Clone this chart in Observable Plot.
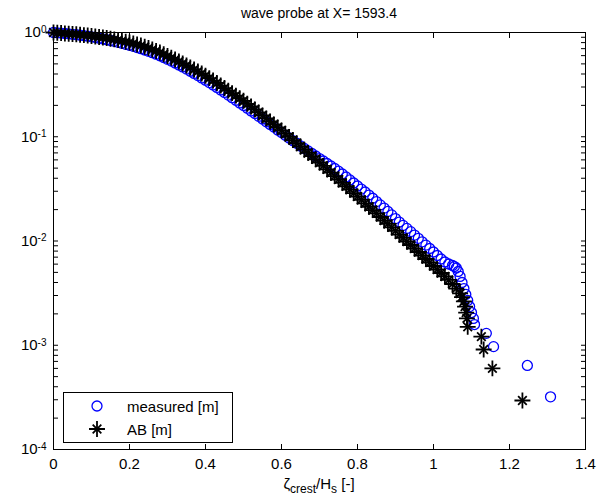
<!DOCTYPE html>
<html><head><meta charset="utf-8">
<script src="https://cdn.jsdelivr.net/npm/d3@7"></script>
<script src="https://cdn.jsdelivr.net/npm/@observablehq/plot@0.6"></script>
<style>
body{margin:0;background:#fff;}
#chart{width:599px;height:503px;}
</style></head><body><div id="chart"></div>
<script>
const titleText = "wave probe at X= 1593.4";
const seriesNames = ["measured [m]", "AB [m]"];

const measuredX = [0,0.01,0.02,0.03,0.04,0.05,0.06,0.07,0.08,0.09,0.10,0.11,0.12,0.13,0.14,0.15,0.16,0.17,0.18,0.19,0.20,0.21,0.22,0.23,0.24,0.25,0.26,0.27,0.28,0.29,0.30,0.31,0.32,0.33,0.34,0.35,0.36,0.37,0.38,0.39,0.40,0.41,0.42,0.43,0.44,0.45,0.46,0.47,0.48,0.49,0.50,0.51,0.52,0.53,0.54,0.55,0.56,0.57,0.58,0.59,0.60,0.61,0.62,0.63,0.64,0.65,0.66,0.67,0.68,0.69,0.70,0.71,0.72,0.73,0.74,0.75,0.76,0.77,0.78,0.79,0.80,0.81,0.82,0.83,0.84,0.85,0.86,0.87,0.88,0.89,0.90,0.91,0.92,0.93,0.94,0.95,0.96,0.97,0.98,0.99,1.00,1.01,1.02,1.03,1.04,1.05,1.055,1.06,1.065,1.07,1.075,1.08,1.085,1.09,1.095,1.10,1.105,1.108,1.139,1.158,1.247,1.308];
const measuredP = [1.000,0.993,0.987,0.978,0.970,0.961,0.953,0.942,0.932,0.922,0.909,0.896,0.882,0.868,0.853,0.838,0.822,0.805,0.788,0.770,0.754,0.736,0.718,0.699,0.679,0.660,0.640,0.619,0.598,0.576,0.553,0.532,0.510,0.488,0.467,0.446,0.425,0.405,0.386,0.367,0.349,0.331,0.314,0.297,0.281,0.266,0.251,0.237,0.224,0.211,0.1995,0.188,0.177,0.167,0.157,0.148,0.139,0.131,0.124,0.116,0.110,0.1033,0.0973,0.0917,0.0866,0.0817,0.0772,0.0730,0.0691,0.0654,0.0618,0.0585,0.0554,0.0524,0.0496,0.0467,0.0439,0.0411,0.0385,0.0360,0.0337,0.0315,0.0295,0.0276,0.0257,0.0239,0.0222,0.0207,0.0192,0.0178,0.0164,0.0152,0.0141,0.0132,0.0123,0.0114,0.0106,0.00982,0.00913,0.00847,0.00784,0.00726,0.00672,0.00629,0.00602,0.00582,0.00569,0.00551,0.00510,0.00457,0.00400,0.00350,0.00307,0.00269,0.00235,0.00206,0.00181,0.00158,0.0013,0.00097,0.00064,0.00032];

const abX = [0,0.01,0.02,0.03,0.04,0.05,0.06,0.07,0.08,0.09,0.10,0.11,0.12,0.13,0.14,0.15,0.16,0.17,0.18,0.19,0.20,0.21,0.22,0.23,0.24,0.25,0.26,0.27,0.28,0.29,0.30,0.31,0.32,0.33,0.34,0.35,0.36,0.37,0.38,0.39,0.40,0.41,0.42,0.43,0.44,0.45,0.46,0.47,0.48,0.49,0.50,0.51,0.52,0.53,0.54,0.55,0.56,0.57,0.58,0.59,0.60,0.61,0.62,0.63,0.64,0.65,0.66,0.67,0.68,0.69,0.70,0.71,0.72,0.73,0.74,0.75,0.76,0.77,0.78,0.79,0.80,0.81,0.82,0.83,0.84,0.85,0.86,0.87,0.88,0.89,0.90,0.91,0.92,0.93,0.94,0.95,0.96,0.97,0.98,0.99,1.00,1.01,1.02,1.03,1.04,1.05,1.06,1.07,1.075,1.08,1.083,1.086,1.088,1.09,1.126,1.132,1.155,1.234];
const abP = [1.000,0.993,0.987,0.980,0.974,0.967,0.961,0.953,0.944,0.936,0.926,0.915,0.905,0.896,0.886,0.872,0.859,0.846,0.831,0.816,0.802,0.784,0.767,0.749,0.729,0.710,0.687,0.665,0.643,0.618,0.595,0.572,0.550,0.527,0.504,0.482,0.462,0.442,0.422,0.404,0.385,0.365,0.346,0.328,0.310,0.293,0.277,0.262,0.248,0.234,0.221,0.207,0.195,0.183,0.171,0.160,0.150,0.140,0.131,0.123,0.115,0.107,0.0997,0.0929,0.0866,0.0806,0.0751,0.0700,0.0652,0.0608,0.0566,0.0525,0.0487,0.0452,0.0419,0.0389,0.0361,0.0335,0.0311,0.0288,0.0267,0.0248,0.0230,0.0213,0.0198,0.0184,0.0170,0.0157,0.0146,0.0135,0.0125,0.0115,0.0107,0.00989,0.00915,0.00847,0.00784,0.00726,0.00672,0.00622,0.00576,0.00533,0.00493,0.00457,0.00423,0.00387,0.00350,0.00314,0.00290,0.00263,0.00235,0.00206,0.00181,0.0015,0.00121,0.00091,0.0006,0.000295];

const xTicks = [0,0.2,0.4,0.6,0.8,1,1.2,1.4];
const xTickLabels = ["0","0.2","0.4","0.6","0.8","1","1.2","1.4"];
const yTicks = [1e-4,1e-3,1e-2,1e-1,1];
const yTickExponents = ["-4","-3","-2","-1","0"];
const yMinorTicks = yTicks.slice(0,-1).flatMap(d => [2,3,4,5,6,7,8,9].map(k => k*d));

const measured = measuredX.map((x,i) => ({x, p: measuredP[i]}));
const ab = abX.map((x,i) => ({x, p: abP[i]}));

const font = "Arial, 'Liberation Sans', Helvetica, sans-serif";
const blue = "#0000ff";
const plusR = 5.2, timesR = 4;
const starW = 1.8;

const plot = Plot.plot({
  width: 599, height: 503,
  marginLeft: 53, marginRight: 14, marginTop: 32, marginBottom: 54,
  style: {fontFamily: font, fontSize: "15px", color: "#000", background: "#fff", overflow: "visible"},
  x: {domain: [0, 1.4]},
  y: {type: "log", domain: [1e-4, 1]},
  marks: [
    Plot.dot(measured, {x: "x", y: "p", r: 5, stroke: blue, strokeWidth: 1.3, fill: "none"}),
    Plot.dot(ab, {x: "x", y: "p", symbol: "plus", r: plusR, stroke: "#000", strokeWidth: starW}),
    Plot.dot(ab, {x: "x", y: "p", symbol: "times", r: timesR, stroke: "#000", strokeWidth: starW}),
    Plot.frame({stroke: "#000"}),
    Plot.axisX({ticks: xTicks, anchor: "bottom", tickSize: -5, tickFormat: () => "", label: null}),
    Plot.axisX({ticks: xTicks, anchor: "top", tickSize: -5, tickFormat: () => "", label: null}),
    Plot.axisX({ticks: xTicks, anchor: "bottom", tickSize: 0, tickPadding: 9, tickFormat: d => xTickLabels[xTicks.indexOf(d)], label: null}),
    Plot.axisY({ticks: yTicks, anchor: "left", tickSize: -5, tickFormat: () => "", label: null}),
    Plot.axisY({ticks: yMinorTicks, anchor: "left", tickSize: -5, tickFormat: () => "", label: null}),
    Plot.axisY({ticks: yTicks, anchor: "right", tickSize: -5, tickFormat: () => "", label: null}),
    Plot.axisY({ticks: yMinorTicks, anchor: "right", tickSize: -5, tickFormat: () => "", label: null}),
    Plot.axisY({ticks: yTicks, anchor: "left", tickSize: 0, tickPadding: 7, tickFormat: d => "10^" + yTickExponents[yTicks.indexOf(d)], label: null})
  ]
});

document.getElementById("chart").appendChild(plot);
const svg = d3.select(plot);

// superscript exponents on y tick labels
svg.selectAll("text").each(function() {
  const t = d3.select(this);
  const s = t.text();
  if (/^10\^/.test(s)) {
    const exp = s.split("^")[1];
    t.text(null);
    t.append("tspan").text("10");
    t.append("tspan").attr("dy", "-0.45em").attr("font-size", "10px").text(exp);
  }
});

// title
svg.append("text")
  .attr("x", 319).attr("y", 18)
  .attr("text-anchor", "middle")
  .attr("font-family", font).attr("font-size", "14px")
  .attr("fill", "#000")
  .text(titleText);

// x label with subscripts
const xl = svg.append("text")
  .attr("x", 319).attr("y", 489)
  .attr("text-anchor", "middle")
  .attr("font-family", font).attr("font-size", "15px").attr("fill", "#000");
xl.append("tspan").text("ζ");
xl.append("tspan").attr("font-size", "12px").attr("dy", 4).text("crest");
xl.append("tspan").attr("dy", -4).text("/H");
xl.append("tspan").attr("font-size", "12px").attr("dy", 4).text("s");
xl.append("tspan").attr("dy", -4).text(" [-]");

// legend
const lg = svg.append("g").attr("font-family", font).attr("font-size", "15px").attr("text-anchor", "start");
lg.append("rect").attr("x", 63.5).attr("y", 392.5).attr("width", 169).attr("height", 50)
  .attr("fill", "#fff").attr("stroke", "#000");
lg.append("circle").attr("cx", 97).attr("cy", 406).attr("r", 5)
  .attr("fill", "none").attr("stroke", blue).attr("stroke-width", 1.3);
lg.append("path").attr("transform", "translate(97,429)")
  .attr("d", d3.symbol(d3.symbolPlus, Math.PI * plusR * plusR)())
  .attr("fill", "none").attr("stroke", "#000").attr("stroke-width", starW);
lg.append("path").attr("transform", "translate(97,429)")
  .attr("d", d3.symbol(d3.symbolTimes, Math.PI * timesR * timesR)())
  .attr("fill", "none").attr("stroke", "#000").attr("stroke-width", starW);
lg.append("text").attr("x", 127).attr("y", 412).attr("text-anchor", "start").attr("fill", "#000").text(seriesNames[0]);
lg.append("text").attr("x", 127).attr("y", 435).attr("text-anchor", "start").attr("fill", "#000").text(seriesNames[1]);
</script>
</body></html>
